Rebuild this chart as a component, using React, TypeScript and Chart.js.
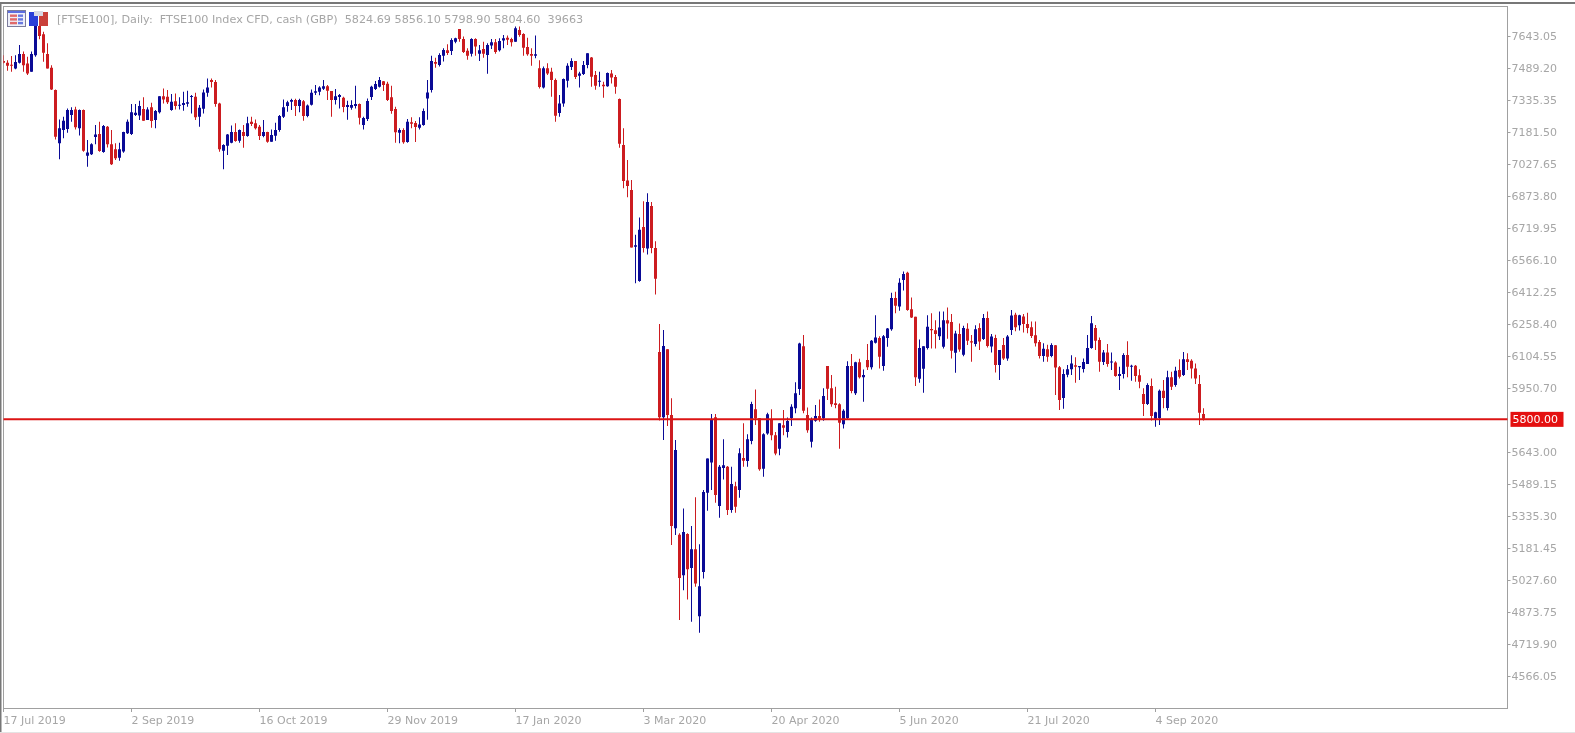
import React, { useEffect, useRef } from "react";
import { Chart, registerables } from "chart.js";

Chart.register(...registerables);

const xTickLabels = ["17 Jul 2019", "2 Sep 2019", "16 Oct 2019", "29 Nov 2019", "17 Jan 2020", "3 Mar 2020", "20 Apr 2020", "5 Jun 2020", "21 Jul 2020", "4 Sep 2020"];
const yTickValues = [7643.05, 7489.2, 7335.35, 7181.5, 7027.65, 6873.8, 6719.95, 6566.1, 6412.25, 6258.4, 6104.55, 5950.7, 5643.0, 5489.15, 5335.3, 5181.45, 5027.6, 4873.75, 4719.9, 4566.05];
const levelLine = 5800;
const titleText = "[FTSE100], Daily:  FTSE100 Index CFD, cash (GBP)  5824.69 5856.10 5798.90 5804.60  39663";

const highs = [
  7551,7527,7547,7551,7600,7568,7543,7568,7720,7704,
  7664,7608,7503,7386,7242,7255,7295,7300,7303,7290,
  7290,7143,7127,7215,7231,7215,7210,7191,7127,7130,
  7183,7242,7316,7316,7332,7348,7300,7322,7287,7354,
  7391,7383,7364,7367,7348,7375,7380,7359,7370,7311,
  7386,7439,7439,7431,7322,7123,7172,7213,7223,7194,
  7215,7255,7255,7242,7215,7239,7183,7194,7226,7263,
  7338,7332,7341,7341,7341,7335,7314,7386,7407,7402,
  7431,7407,7379,7388,7364,7351,7332,7334,7404,7319,
  7255,7343,7404,7427,7446,7427,7423,7404,7303,7199,
  7199,7244,7252,7234,7253,7295,7431,7548,7539,7560,
  7584,7603,7632,7635,7677,7641,7584,7632,7632,7600,
  7616,7608,7629,7629,7632,7648,7645,7635,7689,7689,
  7656,7635,7584,7645,7526,7496,7512,7491,7439,7359,
  7439,7512,7536,7523,7471,7523,7560,7542,7475,7471,
  7423,7468,7480,7455,7343,7199,7047,6951,6687,6771,
  6848,6887,6845,6656,6258,6230,6137,5901,5701,5252,
  5372,5252,5287,5425,5200,5460,5612,5826,5826,5580,
  5704,5576,5572,5500,5661,5781,5728,5885,5944,5805,
  5733,5832,5848,5739,5781,5845,5809,5873,5979,6168,
  6205,5857,5809,5869,5896,5949,6056,6013,5957,5877,
  5848,6079,6114,6077,6091,6040,6162,6181,6301,6200,
  6205,6239,6409,6414,6478,6511,6510,6386,6293,6184,
  6152,6301,6310,6277,6318,6318,6338,6306,6226,6261,
  6250,6262,6206,6252,6262,6307,6319,6210,6207,6134,
  6191,6206,6326,6313,6303,6307,6313,6271,6271,6182,
  6166,6159,6166,6158,6057,6041,6061,6108,6098,6057,
  6093,6206,6297,6254,6194,6134,6162,6121,6079,6053,
  6118,6175,6063,6061,6041,5949,5973,5997,5837,5944,
  5989,6034,6029,6053,6089,6124,6118,6089,6069,6013,5853,
];

const lows = [
  7511,7476,7471,7483,7511,7471,7455,7471,7543,7627,
  7519,7487,7383,7146,7050,7151,7178,7231,7194,7165,
  7087,7014,7071,7123,7087,7082,7107,7023,7047,7043,
  7082,7172,7167,7258,7239,7236,7239,7202,7199,7271,
  7319,7316,7284,7290,7290,7284,7303,7271,7239,7207,
  7271,7351,7396,7303,7087,7002,7071,7127,7135,7130,
  7106,7159,7210,7194,7143,7156,7130,7135,7139,7183,
  7249,7279,7287,7258,7277,7236,7252,7309,7359,7358,
  7383,7335,7255,7314,7295,7276,7241,7289,7295,7218,
  7193,7234,7335,7383,7396,7379,7330,7269,7130,7128,
  7125,7130,7199,7133,7193,7212,7241,7372,7491,7496,
  7520,7552,7552,7608,7616,7561,7529,7544,7548,7523,
  7539,7462,7580,7558,7568,7584,7600,7592,7616,7640,
  7548,7548,7500,7536,7391,7391,7455,7351,7231,7255,
  7303,7395,7480,7436,7395,7455,7488,7399,7385,7399,
  7346,7399,7415,7366,7106,6911,6868,6626,6454,6462,
  6602,6592,6598,6400,5794,5701,5768,5196,5244,4835,
  4979,4934,4827,4995,4774,5035,5361,5460,5399,5327,
  5511,5340,5351,5351,5423,5572,5572,5680,5773,5553,
  5524,5726,5700,5627,5628,5724,5713,5768,5829,5917,
  5829,5736,5665,5789,5789,5793,5893,5861,5853,5659,
  5756,5800,5925,5917,5997,5885,6037,6040,6165,6045,
  6034,6149,6226,6310,6322,6419,6322,6287,5960,5976,
  5928,6136,6141,6141,6181,6141,6188,6092,6024,6125,
  6104,6158,6077,6150,6134,6182,6146,6121,6025,5989,
  6085,6082,6206,6223,6227,6217,6214,6191,6150,6093,
  6077,6077,6098,5917,5845,5851,6002,6013,5976,5989,
  6025,6066,6140,6134,6029,6061,6053,6037,6005,5941,
  5997,6002,5986,5981,5949,5816,5869,5794,5765,5773,
  5853,5842,5941,5957,5997,6009,6037,5997,5970,5773,5794,
];

const opens = [
  7523,7515,7505,7487,7515,7556,7511,7471,7551,7691,
  7651,7556,7491,7383,7127,7191,7196,7263,7290,7199,
  7287,7067,7075,7157,7172,7085,7207,7123,7099,7058,
  7088,7175,7172,7263,7261,7292,7239,7301,7239,7277,
  7354,7351,7287,7329,7308,7311,7317,7350,7351,7255,
  7293,7370,7431,7422,7319,7091,7115,7130,7181,7139,
  7181,7162,7231,7224,7207,7162,7181,7135,7164,7191,
  7255,7306,7327,7335,7306,7329,7258,7313,7370,7375,
  7390,7402,7379,7335,7350,7346,7302,7298,7306,7316,
  7215,7244,7350,7388,7399,7425,7414,7348,7292,7178,
  7191,7133,7229,7225,7202,7215,7342,7383,7518,7504,
  7548,7574,7571,7616,7677,7629,7572,7558,7629,7558,
  7580,7552,7597,7613,7574,7621,7635,7629,7616,7672,
  7653,7590,7556,7548,7488,7395,7488,7471,7431,7273,
  7318,7428,7494,7523,7452,7460,7504,7540,7455,7423,
  7409,7401,7463,7446,7340,7119,6948,6903,6630,6465,
  6725,6621,6826,6624,6124,5810,6137,5821,5276,5245,
  5051,5249,5085,5176,4854,5066,5447,5592,5810,5383,
  5566,5572,5364,5479,5460,5614,5600,5696,5848,5805,
  5563,5732,5800,5724,5659,5772,5739,5806,5854,5946,
  6152,5821,5692,5793,5816,5805,6056,5950,5877,5873,
  5777,5806,6056,5925,6075,6002,6085,6050,6168,6191,
  6056,6191,6233,6383,6342,6470,6505,6329,6293,5995,
  6043,6143,6234,6229,6200,6149,6277,6268,6120,6210,
  6111,6236,6175,6162,6239,6186,6287,6150,6191,6061,
  6158,6093,6230,6303,6252,6294,6259,6243,6204,6172,
  6105,6137,6105,6156,6050,5903,6015,6041,6060,6050,
  6042,6066,6143,6239,6182,6076,6121,6073,6073,6009,
  6018,6110,6053,6058,6012,5922,5874,5960,5803,5807,
  5938,5855,6002,5965,6037,6013,6089,6082,6044,5970,5826,
];

const closes = [
  7515,7500,7500,7518,7556,7503,7463,7556,7704,7643,
  7563,7487,7386,7159,7199,7236,7287,7287,7204,7287,
  7091,7083,7123,7170,7090,7210,7123,7027,7055,7098,
  7181,7231,7276,7274,7306,7236,7290,7234,7282,7353,
  7338,7325,7327,7306,7311,7321,7324,7353,7252,7298,
  7372,7396,7422,7316,7099,7119,7170,7181,7138,7191,
  7162,7223,7220,7200,7162,7181,7135,7167,7191,7258,
  7300,7325,7335,7306,7335,7258,7309,7370,7378,7396,
  7402,7380,7335,7354,7359,7302,7311,7311,7316,7250,
  7249,7330,7399,7412,7431,7407,7335,7282,7180,7191,
  7132,7231,7221,7205,7218,7282,7372,7523,7510,7552,
  7576,7561,7624,7632,7629,7566,7548,7629,7592,7574,
  7558,7600,7613,7566,7619,7632,7625,7613,7680,7648,
  7587,7555,7548,7555,7398,7488,7463,7431,7260,7319,
  7436,7500,7523,7446,7463,7504,7560,7447,7404,7427,
  7401,7465,7443,7399,7125,6946,6922,6626,6637,6711,
  6624,6845,6624,6476,5810,6153,5821,5287,5653,5037,
  5258,5079,5176,5011,4998,5451,5612,5797,5436,5572,
  5579,5364,5489,5380,5637,5601,5704,5874,5805,5560,
  5728,5825,5724,5636,5781,5760,5792,5861,5925,6165,
  5841,5748,5800,5816,5803,5912,5947,5873,5869,5784,
  5841,6056,5936,6074,6002,6013,6050,6178,6194,6101,
  6200,6237,6383,6346,6457,6499,6326,6290,6002,6143,
  6152,6245,6229,6210,6242,6277,6261,6130,6213,6136,
  6239,6178,6169,6233,6174,6287,6153,6198,6061,6134,
  6093,6198,6299,6243,6300,6259,6239,6201,6166,6105,
  6140,6101,6158,6049,5893,6018,6041,6069,6053,6057,
  6076,6143,6262,6178,6077,6121,6066,6076,6009,6018,
  6110,6053,6058,6009,5981,5874,5965,5816,5834,5938,
  5903,6002,5957,6034,6005,6089,6076,6044,5996,5832,5803,
];

const BLUE = "#0a0a96";
const RED = "#cc1c20";
const GREY = "#a6a6a6";
const FRAME = "#a0a0a0";
const FONT = "'DejaVu Sans'";
const LABEL_STEP = 32;
const SLOTS = 377;

const categories = Array.from({ length: SLOTS }, (_, i) =>
  i % LABEL_STEP === 0 && xTickLabels[i / LABEL_STEP] ? xTickLabels[i / LABEL_STEP] : ""
);

function drawIcons(ctx: CanvasRenderingContext2D) {
  ctx.save();
  ctx.fillStyle = "#eef0fa";
  ctx.fillRect(7.5, 10.5, 18, 16);
  ctx.strokeStyle = "#7c7c9c";
  ctx.strokeRect(7.5, 10.5, 18, 16);
  ctx.fillStyle = "#5c6ee0";
  ctx.fillRect(8, 11, 17, 2);
  for (let r = 0; r < 3; r++) {
    ctx.fillStyle = "#e06a6a";
    ctx.fillRect(10, 14.5 + r * 3.7, 7, 2.4);
    ctx.fillStyle = "#6a7ae0";
    ctx.fillRect(18, 14.5 + r * 3.7, 5, 2.4);
  }
  ctx.fillStyle = "#2a3ed8";
  ctx.fillRect(29, 12, 9, 14);
  ctx.fillStyle = "#c9403a";
  ctx.fillRect(39, 12, 9, 14);
  ctx.fillStyle = "#d8d8e4";
  ctx.fillRect(34, 11, 9, 5);
  ctx.restore();
}

const chrome = {
  id: "chrome",
  beforeDatasetsDraw(chart: any) {
    const { ctx, chartArea: a } = chart;
    ctx.save();
    ctx.strokeStyle = FRAME;
    ctx.lineWidth = 1;
    ctx.strokeRect(a.left, a.top + 0.5, a.right - a.left, a.bottom - a.top);
    ctx.fillStyle = "#777777";
    ctx.fillRect(0, 2, 1575, 2);
    ctx.fillRect(0, 2, 1.5, 731);
    ctx.fillStyle = "#e4e4e4";
    ctx.fillRect(0, 732, 1575, 1);
    ctx.restore();
  },
  afterDraw(chart: any) {
    const { ctx, chartArea: a } = chart;
    const y = chart.scales.y.getPixelForValue(levelLine);
    ctx.save();
    drawIcons(ctx);
    ctx.textBaseline = "middle";
    ctx.textAlign = "left";
    ctx.fillStyle = GREY;
    ctx.font = `11.2px ${FONT}`;
    ctx.fillText(titleText, 57, 20.5);
    ctx.font = `11px ${FONT}`;
    ctx.fillStyle = "#e41010";
    ctx.fillRect(a.right + 3, y - 7.5, 53, 15);
    ctx.fillStyle = "#ffffff";
    ctx.fillText(levelLine.toFixed(2), a.right + 5, y + 1);
    ctx.restore();
  },
};

export default function App() {
  const ref = useRef<HTMLCanvasElement | null>(null);
  useEffect(() => {
    if (!ref.current) return;
    const colors = opens.map((o, i) => (closes[i] >= o ? BLUE : RED));
    const chart = new Chart(ref.current, {
      type: "bar",
      data: {
        labels: categories,
        datasets: [
          {
            type: "line",
            label: "Level",
            data: categories.map(() => levelLine),
            borderColor: "#dc1414",
            borderWidth: 2,
            pointRadius: 0,
            order: 0,
          },
          {
            label: "Body",
            data: opens.map((o, i) => [Math.min(o, closes[i]), Math.max(o, closes[i])]),
            backgroundColor: colors,
            maxBarThickness: 3,
            barPercentage: 1,
            categoryPercentage: 1,
            minBarLength: 1,
            inflateAmount: 0,
            grouped: false,
            order: 1,
          },
          {
            label: "Wick",
            data: highs.map((h, i) => [lows[i], h]),
            backgroundColor: colors,
            maxBarThickness: 1,
            barPercentage: 1,
            categoryPercentage: 1,
            inflateAmount: 0,
            grouped: false,
            order: 2,
          },
        ],
      } as any,
      options: {
        animation: false,
        responsive: false,
        maintainAspectRatio: false,
        layout: { padding: { left: 3.5, top: 6, right: 0, bottom: 0 } },
        plugins: { legend: { display: false }, tooltip: { enabled: false }, title: { display: false } },
        scales: {
          x: {
            type: "category",
            offset: false,
            grid: { drawOnChartArea: false, drawTicks: true, tickLength: 4, color: FRAME, offset: false },
            border: { display: false },
            afterFit: (s: any) => { s.height = 25; s.paddingLeft = 0; s.paddingRight = 0; },
            afterBuildTicks: (s: any) => { s.ticks = s.ticks.filter((t: any) => categories[t.value] !== ""); },
            ticks: {
              autoSkip: false,
              maxRotation: 0,
              minRotation: 0,
              align: "start",
              padding: 3,
              color: GREY,
              font: { family: FONT, size: 11 },
            },
          },
          y: {
            type: "linear",
            position: "right",
            min: 4412.3,
            max: 7787.3,
            grid: { drawOnChartArea: false, drawTicks: true, tickLength: 3, color: FRAME },
            border: { display: false },
            afterFit: (s: any) => { s.width = 67.5; s.paddingTop = 0; s.paddingBottom = 0; },
            afterBuildTicks: (s: any) => { s.ticks = yTickValues.map((value) => ({ value })); },
            ticks: {
              padding: 1,
              labelOffset: 1,
              color: GREY,
              font: { family: FONT, size: 11 },
              callback: (v: any) => Number(v).toFixed(2),
            },
          },
        },
      } as any,
      plugins: [chrome],
    });
    return () => chart.destroy();
  }, []);
  return (
    <div style={{ position: "fixed", left: 0, top: 0, width: 1575, height: 733, background: "#fff" }}>
      <canvas ref={ref} width={1575} height={733} style={{ display: "block" }} />
    </div>
  );
}
